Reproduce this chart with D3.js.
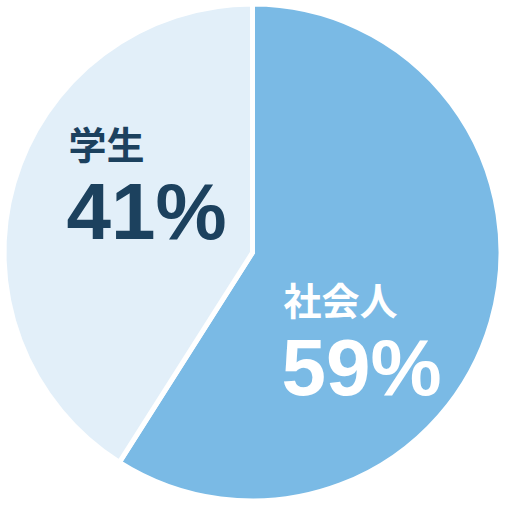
<!DOCTYPE html>
<html>
<head>
<meta charset="utf-8">
<script src="https://cdn.jsdelivr.net/npm/d3@7"></script>
<style>
  html, body { margin: 0; padding: 0; background: #fff; }
  svg { display: block; }
</style>
</head>
<body>
<div id="chart"></div>
<script>
// chart data
const categories = ["社会人", "学生"];
const shares = [59, 41];
const percentLabels = ["59%", "41%"];

const sliceColors = ["#7abae5", "#e2eff9"];
const textColors = ["#ffffff", "#1c415e"];
// label block offsets from the pie centre (left edge of text, category baseline)
const labelOffsets = [[31, 62], [-184, -94]];

const width = 506, height = 505;
const cx = 252.5, cy = 252.5;
const strokeW = 5;
const radius = 246 + strokeW / 2;

const svg = d3.select("#chart").append("svg")
    .attr("width", width)
    .attr("height", height);

const plot = svg.append("g")
    .attr("transform", `translate(${cx},${cy})`);

const data = categories.map((c, i) => ({ name: c, value: shares[i], pct: percentLabels[i], idx: i }));

const pie = d3.pie()
    .value(d => d.value)
    .sort(null);

const arc = d3.arc()
    .innerRadius(0)
    .outerRadius(radius);

plot.append("g")
    .selectAll("path")
    .data(pie(data))
    .enter()
    .append("path")
    .attr("d", arc)
    .attr("fill", d => sliceColors[d.data.idx])
    .attr("stroke", "#fff")
    .attr("stroke-width", strokeW)
    .attr("stroke-linejoin", "miter");

// labels
const labels = plot.append("g")
    .selectAll("g")
    .data(data)
    .enter()
    .append("g")
    .attr("transform", d => `translate(${labelOffsets[d.idx][0]},${labelOffsets[d.idx][1]})`);

labels.append("text")
    .attr("x", 0)
    .attr("y", 0)
    .attr("fill", d => textColors[d.idx])
    .style("font-family", "'Noto Sans CJK JP', 'Noto Sans', sans-serif")
    .style("font-weight", "700")
    .style("font-size", "38px")
    .text(d => d.name);

labels.append("text")
    .attr("x", -2)
    .attr("y", 80)
    .attr("fill", d => textColors[d.idx])
    .style("font-family", "'Liberation Sans', Arial, sans-serif")
    .style("font-weight", "700")
    .style("font-size", "80px")
    .text(d => d.pct);
</script>
</body>
</html>
